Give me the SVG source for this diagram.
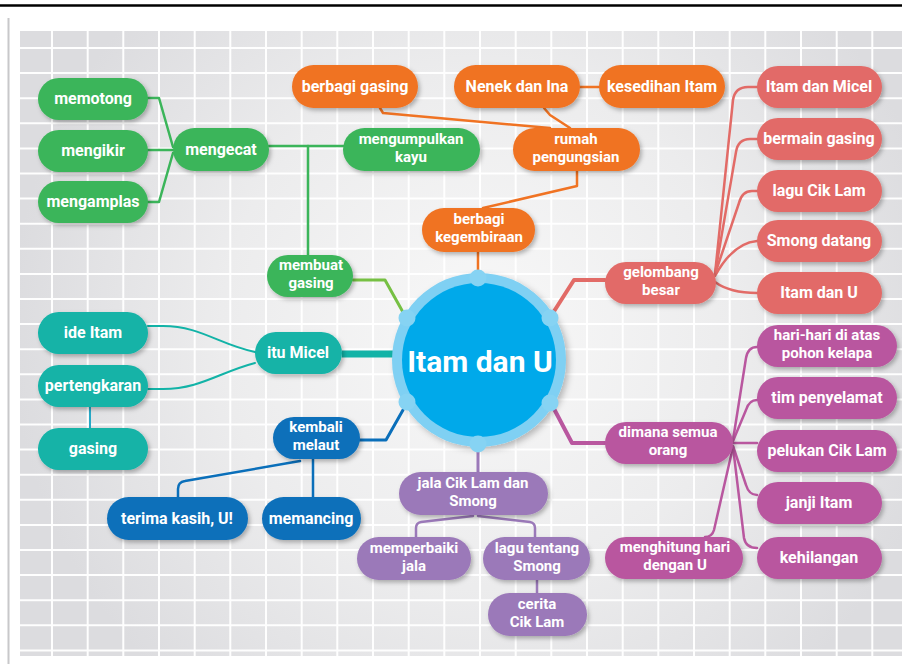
<svg xmlns="http://www.w3.org/2000/svg" width="902" height="664" viewBox="0 0 902 664">
<defs>
<radialGradient id="bg" cx="480" cy="330" r="470" gradientUnits="userSpaceOnUse">
<stop offset="0" stop-color="#f8f8f8"/>
<stop offset="0.55" stop-color="#ececed"/>
<stop offset="1" stop-color="#dcdcdf"/>
</radialGradient>
<filter id="sh" x="-20%" y="-30%" width="150%" height="170%">
<feDropShadow dx="2" dy="2.5" stdDeviation="2" flood-color="#000" flood-opacity="0.28"/>
</filter>
<filter id="shc" x="-20%" y="-20%" width="150%" height="150%">
<feDropShadow dx="3" dy="3" stdDeviation="3" flood-color="#000" flood-opacity="0.25"/>
</filter>
</defs>
<style>
text{font-family:Roboto,"Liberation Sans",Arial,sans-serif;font-weight:bold;fill:#fff;text-anchor:middle;font-size:16px}
text.s{font-size:15px}
.n rect{filter:url(#sh)}
.g rect{fill:#3bb55a}
.o rect{fill:#f07323}
.r rect{fill:#e26b67}
.m rect{fill:#b9579f}
.t rect{fill:#12b3a7}
.b rect{fill:#0a6fba}
.p rect{fill:#9b79b9}
.c path{fill:none;stroke-width:2.5;stroke-linejoin:round;stroke-linecap:round}
.cg{stroke:#3bb55a}
.co{stroke:#f07323}
.cr{stroke:#e26b67}
.cm{stroke:#b9579f}
.ct{stroke:#12b3a7}
.cb{stroke:#0a6fba}
.cp{stroke:#9b79b9}
.dot{fill:#86d3f3}
</style>
<!-- background -->
<rect x="0" y="0" width="902" height="664" fill="#fff"/>
<line x1="0" y1="5.5" x2="902" y2="5.5" stroke="#000" stroke-width="2.5"/>
<line x1="8.5" y1="18" x2="8.5" y2="664" stroke="#c8c8ca" stroke-width="2"/>
<rect x="20" y="31" width="882" height="625" fill="url(#bg)"/>
<path stroke="#fff" stroke-width="2" opacity="0.95" fill="none" d="M52 31V656M87.7 31V656M123.3 31V656M159 31V656M194.7 31V656M230.3 31V656M266 31V656M301.7 31V656M337.3 31V656M373 31V656M408.7 31V656M444.3 31V656M480 31V656M515.7 31V656M551.3 31V656M587 31V656M622.7 31V656M658.3 31V656M694 31V656M729.7 31V656M765.3 31V656M801 31V656M836.7 31V656M872.3 31V656M20 48H902M20 73.1H902M20 98.2H902M20 123.3H902M20 148.4H902M20 173.5H902M20 198.6H902M20 223.7H902M20 248.8H902M20 273.9H902M20 299H902M20 324.1H902M20 349.2H902M20 374.3H902M20 399.4H902M20 424.5H902M20 449.6H902M20 474.7H902M20 499.8H902M20 524.9H902M20 550H902M20 575.1H902M20 600.2H902M20 625.3H902M20 650.4H902"/>

<!-- connectors -->
<g id="connectors" class="c">
<path class="cg" d="M148 98H159L173 147"/>
<path class="cg" d="M148 150H173"/>
<path class="cg" d="M148 202H159L173 153"/>
<path class="cg" d="M269 146H343"/>
<path class="cg" d="M308 146V255"/>
<path stroke="#76c043" style="stroke-width:3" d="M353 280H385L404 314"/>

<path class="co" d="M580 87H599"/>
<path class="co" d="M380 108L383 113L550 128"/>
<path class="co" d="M544 108L550 115L570 128"/>
<path class="co" d="M577 171V186L483 208"/>
<path class="co" d="M478 252V272"/>

<path class="cr" style="stroke-width:4" d="M551 316L574 280H605"/>
<path class="cr" d="M715 274L733 100Q735 87 748 87H757"/>
<path class="cr" d="M715 274L736 152Q738 139 750 139H757"/>
<path class="cr" d="M715 274L739 203Q742 191 752 191H757"/>
<path class="cr" d="M715 276Q733 243 757 241"/>
<path class="cr" d="M715 282Q730 293 757 293"/>

<path class="cm" style="stroke-width:4" d="M552 405L572 443H605"/>
<path class="cm" d="M733 440L746 358Q748 347 757 347"/>
<path class="cm" d="M733 441L746 410Q749 400 757 400"/>
<path class="cm" d="M733 443H757"/>
<path class="cm" d="M733 446L746 485Q749 495 757 495"/>
<path class="cm" d="M733 447L744 538Q746 548 757 548"/>
<path class="cm" d="M733 447L714 530Q712 537 705 537"/>

<path class="ct" style="stroke-width:7;stroke-linecap:butt" d="M342 354H394"/>
<path class="ct" style="stroke-width:2" d="M148 326H163C200 326 220 345 255 352"/>
<path class="ct" style="stroke-width:2" d="M148 389H163C200 389 220 372 255 363"/>
<path stroke="#27a8c6" style="stroke-width:2" d="M90 407V428"/>

<path class="cb" style="stroke-width:3" d="M403 410L386 440H360"/>
<path class="cb" d="M313 459V497"/>
<path class="cb" d="M300 461L185 481Q178 482 178 489V497"/>

<path class="cp" style="stroke-width:3" d="M478 452V472"/>
<path class="cp" d="M473 516L421 522Q416 523 416 528V537"/>
<path class="cp" d="M478 516L530 522Q535 523 535 528V537"/>
<path class="cp" d="M537 580V593"/>
</g>

<!-- center -->
<g id="center">
<circle cx="479" cy="360" r="87" fill="#7fd0f3" filter="url(#shc)"/>
<circle cx="479" cy="360" r="77" fill="#00a9ea"/>
<circle class="dot" cx="478" cy="278" r="8.5"/>
<circle class="dot" cx="478" cy="444" r="8.5"/>
<circle class="dot" cx="407" cy="318" r="8.5"/>
<circle class="dot" cx="550" cy="318" r="8.5"/>
<circle class="dot" cx="407" cy="402" r="8.5"/>
<circle class="dot" cx="550" cy="403" r="8.5"/>
<text x="480" y="372" style="font-size:30px">Itam dan U</text>
</g>

<!-- green -->
<g id="memotong" class="n g"><rect x="38" y="78" width="110" height="42" rx="21"/><text x="93" y="104">memotong</text></g>
<g id="mengikir" class="n g"><rect x="38" y="130" width="110" height="42" rx="21"/><text x="93" y="156">mengikir</text></g>
<g id="mengamplas" class="n g"><rect x="38" y="181" width="110" height="42" rx="21"/><text x="93" y="207">mengamplas</text></g>
<g id="mengecat" class="n g"><rect x="173" y="128" width="96" height="43" rx="21.5"/><text x="221" y="155">mengecat</text></g>
<g id="mengumpulkan-kayu" class="n g"><rect x="343" y="128" width="137" height="43" rx="21.5"/><text class="s" x="411" y="143.5">mengumpulkan</text><text class="s" x="411" y="161.5">kayu</text></g>
<g id="membuat-gasing" class="n g"><rect x="267" y="255" width="86" height="42" rx="21"/><text class="s" x="311" y="270">membuat</text><text class="s" x="311" y="288">gasing</text></g>

<!-- orange -->
<g id="berbagi-gasing" class="n o"><rect x="292" y="65" width="126" height="43" rx="21.5"/><text x="355" y="92">berbagi gasing</text></g>
<g id="nenek-dan-ina" class="n o"><rect x="454" y="65" width="126" height="43" rx="21.5"/><text x="517" y="92">Nenek dan Ina</text></g>
<g id="kesedihan-itam" class="n o"><rect x="599" y="65" width="126" height="43" rx="21.5"/><text x="662" y="92">kesedihan Itam</text></g>
<g id="rumah-pengungsian" class="n o"><rect x="513" y="128" width="127" height="43" rx="21.5"/><text class="s" x="576" y="143.5">rumah</text><text class="s" x="576" y="161.5">pengungsian</text></g>
<g id="berbagi-kegembiraan" class="n o"><rect x="422" y="208" width="113" height="44" rx="22"/><text class="s" x="479" y="224">berbagi</text><text class="s" x="479" y="242">kegembiraan</text></g>

<!-- red -->
<g id="itam-dan-micel" class="n r"><rect x="757" y="66" width="125" height="42" rx="21"/><text x="819" y="92">Itam dan Micel</text></g>
<g id="bermain-gasing" class="n r"><rect x="757" y="118" width="125" height="42" rx="21"/><text x="819" y="144">bermain gasing</text></g>
<g id="lagu-cik-lam" class="n r"><rect x="757" y="170" width="125" height="42" rx="21"/><text x="819" y="196">lagu Cik Lam</text></g>
<g id="smong-datang" class="n r"><rect x="757" y="220" width="125" height="42" rx="21"/><text x="819" y="246">Smong datang</text></g>
<g id="itam-dan-u" class="n r"><rect x="757" y="272" width="125" height="42" rx="21"/><text x="819" y="298">Itam dan U</text></g>
<g id="gelombang-besar" class="n r"><rect x="605" y="262" width="111" height="42" rx="21"/><text class="s" x="661" y="277">gelombang</text><text class="s" x="661" y="295">besar</text></g>

<!-- magenta -->
<g id="hari-hari" class="n m"><rect x="757" y="325" width="140" height="42" rx="21"/><text class="s" x="827" y="340">hari-hari di atas</text><text class="s" x="827" y="358">pohon kelapa</text></g>
<g id="tim-penyelamat" class="n m"><rect x="757" y="377" width="140" height="42" rx="21"/><text x="827" y="403">tim penyelamat</text></g>
<g id="pelukan-cik-lam" class="n m"><rect x="757" y="430" width="140" height="42" rx="21"/><text x="827" y="456">pelukan Cik Lam</text></g>
<g id="janji-itam" class="n m"><rect x="757" y="482" width="125" height="42" rx="21"/><text x="819" y="508">janji Itam</text></g>
<g id="kehilangan" class="n m"><rect x="757" y="537" width="125" height="42" rx="21"/><text x="819" y="563">kehilangan</text></g>
<g id="dimana-semua-orang" class="n m"><rect x="605" y="422" width="128" height="42" rx="21"/><text class="s" x="668" y="437">dimana semua</text><text class="s" x="668" y="455">orang</text></g>
<g id="menghitung-hari" class="n m"><rect x="605" y="537" width="138" height="42" rx="21"/><text class="s" x="675" y="552">menghitung hari</text><text class="s" x="675" y="570">dengan U</text></g>

<!-- teal -->
<g id="ide-itam" class="n t"><rect x="38" y="312" width="110" height="42" rx="21"/><text x="93" y="338">ide Itam</text></g>
<g id="pertengkaran" class="n t"><rect x="38" y="365" width="110" height="42" rx="21"/><text x="93" y="391">pertengkaran</text></g>
<g id="gasing" class="n t"><rect x="38" y="428" width="110" height="42" rx="21"/><text x="93" y="454">gasing</text></g>
<g id="itu-micel" class="n t"><rect x="255" y="332" width="87" height="42" rx="21"/><text x="298" y="358">itu Micel</text></g>

<!-- blue -->
<g id="kembali-melaut" class="n b"><rect x="273" y="417" width="87" height="42" rx="21"/><text class="s" x="316" y="432">kembali</text><text class="s" x="316" y="450">melaut</text></g>
<g id="terima-kasih" class="n b"><rect x="107" y="497" width="141" height="43" rx="21.5"/><text x="177" y="524">terima kasih, U!</text></g>
<g id="memancing" class="n b"><rect x="262" y="497" width="99" height="43" rx="21.5"/><text x="311" y="524">memancing</text></g>

<!-- purple -->
<g id="jala-cik-lam" class="n p"><rect x="399" y="472" width="149" height="43" rx="21.5"/><text class="s" x="473" y="487.5">jala Cik Lam dan</text><text class="s" x="473" y="505.5">Smong</text></g>
<g id="memperbaiki-jala" class="n p"><rect x="357" y="537" width="114" height="43" rx="21.5"/><text class="s" x="414" y="552.5">memperbaiki</text><text class="s" x="414" y="570.5">jala</text></g>
<g id="lagu-tentang-smong" class="n p"><rect x="483" y="537" width="107" height="43" rx="21.5"/><text class="s" x="537" y="552.5">lagu tentang</text><text class="s" x="537" y="570.5">Smong</text></g>
<g id="cerita-cik-lam" class="n p"><rect x="488" y="593" width="99" height="43" rx="21.5"/><text class="s" x="537" y="608.5">cerita</text><text class="s" x="537" y="626.5">Cik Lam</text></g>
</svg>
